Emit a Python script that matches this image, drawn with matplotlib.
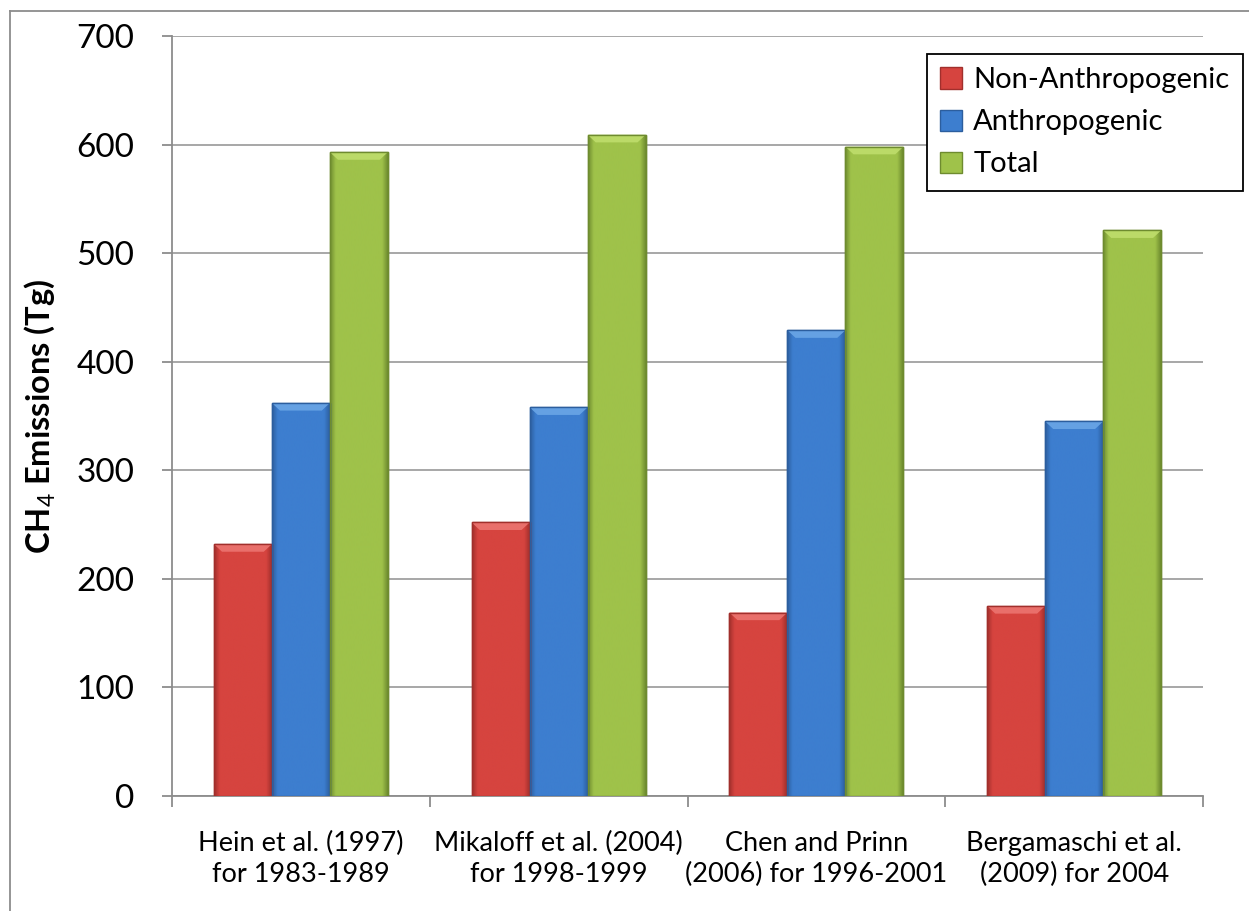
import matplotlib
matplotlib.use("Agg")
import matplotlib.pyplot as plt
import numpy as np
from matplotlib.colors import LinearSegmentedColormap
from matplotlib.lines import Line2D

plt.rcParams['font.family'] = ['Lato', 'DejaVu Sans']
plt.rcParams['mathtext.fontset'] = 'custom'
plt.rcParams['mathtext.rm'] = 'Lato'
plt.rcParams['mathtext.it'] = 'Lato:italic:bold'
plt.rcParams['mathtext.bf'] = 'Lato:bold'

studies = ["Hein et al. (1997)\nfor 1983-1989",
           "Mikaloff et al. (2004)\nfor 1998-1999",
           "Chen and Prinn\n(2006) for 1996-2001",
           "Bergamaschi et al.\n(2009) for 2004"]
non_anthro = [232, 252, 169, 175]
anthro = [362, 358, 429, 345]
total = [593, 609, 598, 521]
series_names = ["Non-Anthropogenic", "Anthropogenic", "Total"]

# (dark edge, mid, light bevel)
palette = [("#a12f2c", "#d6443f", "#ec7470"),
           ("#2c5e9e", "#3d7ecf", "#6aa6e6"),
           ("#6e8b2f", "#9fc24a", "#bfdd6c")]

fig = plt.figure(figsize=(12.49, 9.11), dpi=100)
ax = fig.add_axes([0.1377, 0.1262, 0.8255, 0.8343])

x = np.arange(len(studies))
w = 0.225
grad = np.linspace(0, 1, 256).reshape(1, -1)
for i, (vals, name) in enumerate(zip([non_anthro, anthro, total], series_names)):
    dark, mid, light = palette[i]
    bars = ax.bar(x + (i - 1) * w, vals, w, color=mid, edgecolor=dark,
                  linewidth=1.0, label=name, zorder=3)
    cmap = LinearSegmentedColormap.from_list(
        "g", [(0, dark), (0.1, mid), (0.5, mid), (0.9, mid), (1, dark)])
    for b in bars:
        x0, y0 = b.get_x(), b.get_y()
        bw, bh = b.get_width(), b.get_height()
        im = ax.imshow(grad, extent=[x0, x0 + bw, y0, y0 + bh], cmap=cmap,
                       aspect='auto', zorder=3.1, interpolation='bilinear')
        im.set_clip_path(b)
        top = 7
        ax.fill([x0, x0 + bw, x0 + bw * 0.86, x0 + bw * 0.14],
                [y0 + bh, y0 + bh, y0 + bh - top, y0 + bh - top],
                color=light, alpha=0.9, zorder=3.2, lw=0)
        ax.add_patch(plt.Rectangle((x0, y0), bw, bh, fill=False,
                                   edgecolor=dark, lw=1.0, zorder=3.3))

ax.set_xlim(-0.5, len(studies) - 0.5)
ax.set_ylim(0, 700)
ax.set_yticks(range(0, 701, 100))
ax.tick_params(axis='y', labelsize=24, length=7, color='#8c8c8c', width=1.3, pad=20)
ax.set_xticks(x)
ax.set_xticklabels(studies, fontsize=19.5, linespacing=1.33)
ax.tick_params(axis='x', length=0, pad=25)
ax.set_xticks(np.arange(-0.5, len(studies), 1), minor=True)
ax.tick_params(axis='x', which='minor', length=8, color='#8c8c8c', width=1.3)

ax.grid(axis='y', color='#a0a0a0', lw=1.3, zorder=0)
for s in ['top', 'right']:
    ax.spines[s].set_visible(False)
for s in ['left', 'bottom']:
    ax.spines[s].set_color('#8c8c8c')
    ax.spines[s].set_linewidth(1.3)

ax.set_ylabel(r'CH$_{\mathit{4}}$ Emissions (Tg)', fontsize=23.5, fontweight='bold', labelpad=14)

leg = ax.legend(loc='upper right', bbox_to_anchor=(1.0385, 0.976), fontsize=21,
                frameon=True, fancybox=False, edgecolor='black', framealpha=1,
                handlelength=0.75, handleheight=0.75, handletextpad=0.4,
                borderpad=0.45, labelspacing=0.55, borderaxespad=0)
leg.get_frame().set_linewidth(1.3)

# outer chart-area border (left and top edges visible)
fig.add_artist(Line2D([10 / 1249, 10 / 1249], [0, 1 - 11 / 911], color='#8c8c8c', lw=1.3))
fig.add_artist(Line2D([10 / 1249, 1], [1 - 11 / 911, 1 - 11 / 911], color='#8c8c8c', lw=1.3))

fig.savefig("out.png", dpi=100)
